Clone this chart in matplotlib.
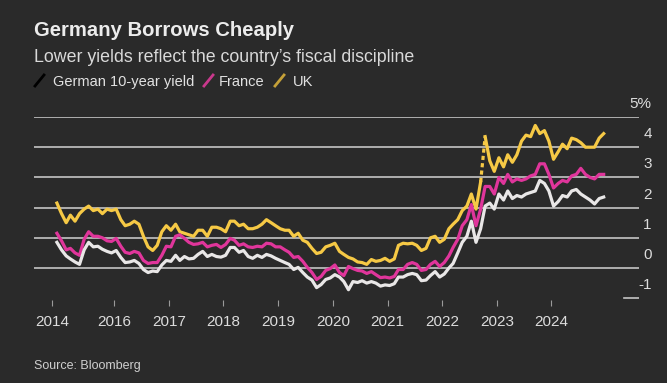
import matplotlib
matplotlib.use("Agg")
import matplotlib.pyplot as plt
from matplotlib.lines import Line2D
import numpy as np
import pandas as pd

plt.rcParams["font.family"] = ["Liberation Sans", "DejaVu Sans"]

# monthly 10-year yields, Nov 2014 .. Nov 2024 (%)
dates = pd.date_range("2014-11-15", periods=121, freq="MS") + pd.Timedelta(days=14)

german = [0.85, 0.60,
          0.40, 0.30, 0.20, 0.12, 0.60, 0.85, 0.70, 0.72, 0.62, 0.55, 0.50, 0.58,
          0.35, 0.18, 0.20, 0.25, 0.15, -0.05, -0.15, -0.10, -0.12, 0.10, 0.25, 0.22,
          0.42, 0.25, 0.38, 0.30, 0.32, 0.45, 0.55, 0.38, 0.45, 0.38, 0.36, 0.42,
          0.68, 0.68, 0.52, 0.58, 0.38, 0.32, 0.42, 0.35, 0.45, 0.40, 0.32, 0.25,
          0.18, 0.12, -0.05, 0.02, -0.15, -0.30, -0.40, -0.65, -0.55, -0.38, -0.33, -0.22,
          -0.30, -0.45, -0.72, -0.45, -0.48, -0.42, -0.50, -0.45, -0.50, -0.60, -0.56, -0.58,
          -0.52, -0.30, -0.30, -0.22, -0.18, -0.22, -0.42, -0.40, -0.25, -0.12, -0.30, -0.20,
          0.00, 0.15, 0.50, 0.85, 1.05, 1.55, 0.85, 1.30, 2.05, 2.15, 1.95, 2.45,
          2.25, 2.55, 2.30, 2.40, 2.35, 2.45, 2.50, 2.55, 2.90, 2.80, 2.55, 2.05,
          2.20, 2.40, 2.35, 2.55, 2.60, 2.45, 2.35, 2.25, 2.12, 2.30, 2.35]

france = [1.15, 0.90,
          0.60, 0.65, 0.50, 0.42, 0.95, 1.20, 1.05, 1.05, 1.00, 0.90, 0.88, 0.98,
          0.72, 0.52, 0.48, 0.55, 0.50, 0.25, 0.15, 0.18, 0.18, 0.42, 0.72, 0.70,
          1.05, 1.10, 0.98, 0.85, 0.78, 0.80, 0.85, 0.70, 0.75, 0.78, 0.68, 0.78,
          0.98, 0.92, 0.75, 0.80, 0.70, 0.68, 0.72, 0.70, 0.82, 0.80, 0.70, 0.70,
          0.60, 0.52, 0.35, 0.38, 0.22, 0.02, -0.15, -0.38, -0.28, -0.08, -0.02, 0.10,
          -0.15, -0.25, 0.05, -0.02, -0.08, -0.10, -0.18, -0.12, -0.22, -0.32, -0.30, -0.33,
          -0.28, -0.05, -0.05, 0.12, 0.18, 0.12, -0.08, -0.05, 0.12, 0.22, 0.05, 0.18,
          0.40, 0.68, 0.95, 1.40, 1.60, 2.10, 1.40, 1.95, 2.70, 2.70, 2.45, 3.00,
          2.80, 3.10, 2.85, 2.95, 2.90, 2.95, 3.05, 3.10, 3.45, 3.45, 3.10, 2.65,
          2.80, 2.90, 2.85, 3.05, 3.10, 3.30, 3.10, 3.00, 2.95, 3.10, 3.10]

uk = [2.15, 1.80,
      1.50, 1.75, 1.55, 1.80, 1.95, 2.05, 1.90, 1.95, 1.80, 1.95, 1.90, 1.95,
      1.60, 1.40, 1.45, 1.55, 1.45, 1.05, 0.70, 0.58, 0.75, 1.20, 1.40, 1.25,
      1.45, 1.20, 1.15, 1.10, 1.05, 1.25, 1.25, 1.05, 1.35, 1.35, 1.30, 1.20,
      1.55, 1.55, 1.40, 1.45, 1.30, 1.30, 1.35, 1.45, 1.60, 1.50, 1.40, 1.30,
      1.25, 1.25, 1.05, 1.15, 0.92, 0.85, 0.65, 0.48, 0.52, 0.70, 0.75, 0.82,
      0.55, 0.45, 0.35, 0.30, 0.20, 0.18, 0.12, 0.28, 0.22, 0.25, 0.32, 0.22,
      0.30, 0.75, 0.82, 0.80, 0.82, 0.75, 0.58, 0.65, 1.00, 1.05, 0.85, 0.95,
      1.30, 1.45, 1.60, 1.90, 2.05, 2.45, 1.95, 2.85, 4.35, 3.55, 3.20, 3.65,
      3.35, 3.75, 3.50, 3.75, 4.20, 4.40, 4.35, 4.72, 4.45, 4.55, 4.20, 3.60,
      3.85, 4.10, 3.95, 4.30, 4.25, 4.15, 4.00, 4.00, 4.00, 4.30, 4.45]
uk_gap = 94  # Sep 2022, gilt sell-off drawn as a dashed jump

year_ticks = pd.to_datetime(["2014-11-15", "2016-01-01", "2017-01-01", "2018-01-01",
                             "2019-01-01", "2020-01-01", "2021-01-01", "2022-01-01",
                             "2023-01-01", "2024-01-01"])
year_labels = ["2014", "2016", "2017", "2018", "2019", "2020", "2021", "2022", "2023", "2024"]
y_levels = [0, 1, 2, 3, 4, 5]

BG = "#2a2a2a"
C_DE, C_FR, C_UK = "#e9e7e7", "#e0359b", "#f6c945"
W, H = 667, 383

fig = plt.figure(figsize=(W / 100, H / 100), dpi=100, facecolor=BG)
ax = fig.add_axes([34 / W, 1 - 299.7 / H, 605 / W, (299.7 - 117) / H])
ax.set_facecolor(BG)

for v in y_levels:
    ax.axhline(v, color="#c4c4c4", lw=1.2, zorder=1)
ax.axhline(-1, xmin=0.975, xmax=1, color="#c4c4c4", lw=1.2, zorder=1)

lw = 2.3
ax.plot(dates[:uk_gap], uk[:uk_gap], color=C_UK, lw=lw, zorder=2)
ax.plot(dates[uk_gap - 1:uk_gap + 1], uk[uk_gap - 1:uk_gap + 1], color=C_UK, lw=lw,
        ls=(0, (1.3, 1.0)), zorder=2)
ax.plot(dates[uk_gap:], uk[uk_gap:], color=C_UK, lw=lw, zorder=2)
ax.plot(dates, france, color=C_FR, lw=lw, zorder=3)
ax.plot(dates, german, color=C_DE, lw=lw, zorder=4)

ax.set_xlim(pd.Timestamp("2014-07-15"), pd.Timestamp("2025-08-08"))
ax.set_ylim(-1.05, 5.0)
for s in ax.spines.values():
    s.set_visible(False)
ax.set_yticks([])
ax.set_xticks(year_ticks)
ax.set_xticklabels(year_labels)
ax.tick_params(axis="x", colors="#9a9a9a", length=4, width=0.8, pad=7,
               labelcolor="#dcdcdc", labelsize=11)

# right-hand value labels, sitting just above each gridline
for v in [-1] + y_levels:
    txt = "5%" if v == 5 else str(v)
    ax.text(1.021, v + 0.43, txt, transform=ax.get_yaxis_transform(),
            ha="right", va="center", color="#dcdcdc", fontsize=11)

fig.text(34 / W, 1 - 36 / H, "Germany Borrows Cheaply", color="#ececec",
         fontsize=14.6, fontweight="bold", va="baseline")
fig.text(34 / W, 1 - 62 / H, "Lower yields reflect the country\u2019s fiscal discipline",
         color="#d9d9d9", fontsize=12.8, va="baseline")

legend = [("German 10-year yield", "#000000", 35, 53),
          ("France", "#c9388c", 204, 219),
          ("UK", "#c4a038", 275, 293)]
for label, col, sx, tx in legend:
    fig.add_artist(Line2D([sx / W, (sx + 9) / W], [1 - 86 / H, 1 - 75 / H],
                          transform=fig.transFigure, color=col, lw=2))
    fig.text(tx / W, 1 - 86 / H, label, color="#e2e2e2", fontsize=10.5, va="baseline")

fig.text(34 / W, 1 - 366 / H, "Source: Bloomberg", color="#cfcfcf", fontsize=9,
         va="center")

fig.savefig("out.png", dpi=100, facecolor=BG)
